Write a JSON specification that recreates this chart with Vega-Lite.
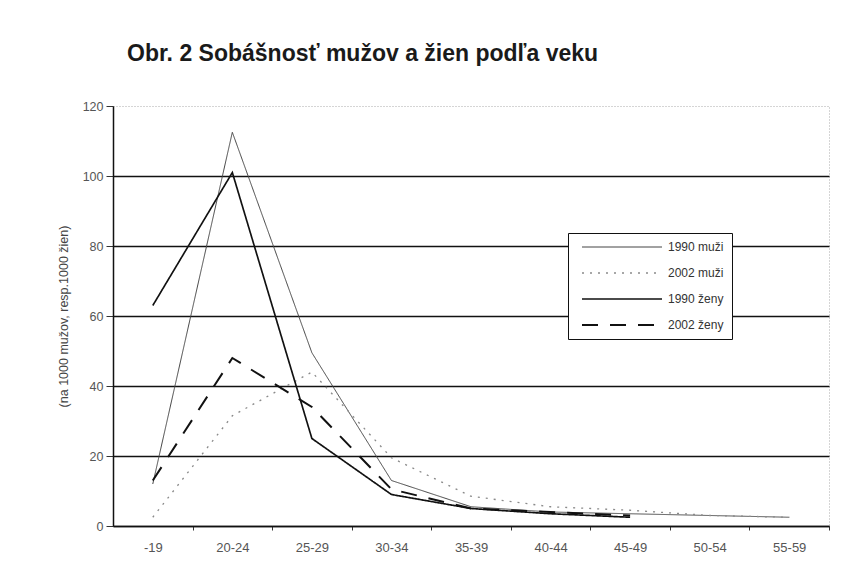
{
  "$schema": "https://vega.github.io/schema/vega-lite/v6.json",
  "width": 716,
  "height": 420,
  "autosize": {"type": "none"},
  "padding": {"left": 113, "top": 106, "right": 33, "bottom": 58},
  "background": "white",
  "title": {
    "text": "Obr. 2 Sobášnosť mužov a žien podľa veku",
    "anchor": "start",
    "frame": "group",
    "font": "Liberation Sans",
    "fontSize": 23,
    "fontWeight": "bold",
    "color": "#1a1a1a",
    "dx": 14,
    "offset": 34
  },
  "data": {
    "values": [
      {"age": "-19", "series": "1990 muži", "value": 12},
      {"age": "20-24", "series": "1990 muži", "value": 112.5},
      {"age": "25-29", "series": "1990 muži", "value": 49.5},
      {"age": "30-34", "series": "1990 muži", "value": 13},
      {"age": "35-39", "series": "1990 muži", "value": 5.5},
      {"age": "40-44", "series": "1990 muži", "value": 4},
      {"age": "45-49", "series": "1990 muži", "value": 3.5},
      {"age": "50-54", "series": "1990 muži", "value": 3},
      {"age": "55-59", "series": "1990 muži", "value": 2.5},
      {"age": "-19", "series": "2002 muži", "value": 2.5},
      {"age": "20-24", "series": "2002 muži", "value": 31.5},
      {"age": "25-29", "series": "2002 muži", "value": 44},
      {"age": "30-34", "series": "2002 muži", "value": 19.5},
      {"age": "35-39", "series": "2002 muži", "value": 8.5},
      {"age": "40-44", "series": "2002 muži", "value": 5.5},
      {"age": "45-49", "series": "2002 muži", "value": 4.5},
      {"age": "50-54", "series": "2002 muži", "value": 3},
      {"age": "55-59", "series": "2002 muži", "value": 2.5},
      {"age": "-19", "series": "1990 ženy", "value": 63},
      {"age": "20-24", "series": "1990 ženy", "value": 101},
      {"age": "25-29", "series": "1990 ženy", "value": 25},
      {"age": "30-34", "series": "1990 ženy", "value": 9},
      {"age": "35-39", "series": "1990 ženy", "value": 5},
      {"age": "40-44", "series": "1990 ženy", "value": 3.5},
      {"age": "45-49", "series": "1990 ženy", "value": 2.5},
      {"age": "-19", "series": "2002 ženy", "value": 13},
      {"age": "20-24", "series": "2002 ženy", "value": 48},
      {"age": "25-29", "series": "2002 ženy", "value": 34},
      {"age": "30-34", "series": "2002 ženy", "value": 10.5},
      {"age": "35-39", "series": "2002 ženy", "value": 5},
      {"age": "40-44", "series": "2002 ženy", "value": 4},
      {"age": "45-49", "series": "2002 ženy", "value": 3}
    ]
  },
  "mark": {"type": "line", "interpolate": "linear"},
  "encoding": {
    "x": {
      "field": "age",
      "type": "ordinal",
      "sort": ["-19", "20-24", "25-29", "30-34", "35-39", "40-44", "45-49", "50-54", "55-59"],
      "scale": {"type": "point", "padding": 0.5},
      "axis": {
        "title": null,
        "labelAngle": 0,
        "labelFont": "Liberation Sans",
        "labelFontSize": 13,
        "labelColor": "#555",
        "labelPadding": 11,
        "tickSize": 4,
        "tickColor": "#333",
        "tickOffset": 39.78,
        "labelOffset": -39.78,
        "domainColor": "#111",
        "domainWidth": 1.5,
        "grid": false
      }
    },
    "y": {
      "field": "value",
      "type": "quantitative",
      "scale": {"domain": [0, 120]},
      "axis": {
        "values": [0, 20, 40, 60, 80, 100, 120],
        "title": "(na 1000 mužov, resp.1000 žien)",
        "titleFont": "Liberation Sans",
        "titleFontSize": 12.5,
        "titleFontWeight": "normal",
        "titleColor": "#444",
        "titlePadding": 12,
        "labelFont": "Liberation Sans",
        "labelFontSize": 12.5,
        "labelColor": "#555",
        "labelPadding": 3,
        "tickSize": 7,
        "tickColor": "#333",
        "domainColor": "#111",
        "domainWidth": 1.5,
        "grid": true,
        "gridColor": {"condition": {"test": "datum.value === 120", "value": "transparent"}, "value": "#111"},
        "gridWidth": 1.4
      }
    },
    "color": {
      "field": "series",
      "type": "ordinal",
      "scale": {
        "domain": ["1990 muži", "2002 muži", "1990 ženy", "2002 ženy"],
        "range": ["#444444", "#8a8a8a", "#111111", "#111111"]
      }
    },
    "strokeDash": {
      "field": "series",
      "type": "ordinal",
      "scale": {
        "domain": ["1990 muži", "2002 muži", "1990 ženy", "2002 ženy"],
        "range": [[1, 0], [2, 6], [1, 0], [16, 12]]
      }
    },
    "strokeWidth": {
      "field": "series",
      "type": "ordinal",
      "scale": {
        "domain": ["1990 muži", "2002 muži", "1990 ženy", "2002 ženy"],
        "range": [1, 2, 3, 3]
      }
    }
  },
  "config": {
    "view": {"stroke": "#aaa", "strokeDash": [1, 2], "strokeWidth": 1},
    "legend": {
      "orient": "none",
      "legendX": 455,
      "legendY": 127,
      "title": null,
      "symbolType": "M0,0H16",
      "symbolSize": 100,
      "strokeColor": "#111",
      "fillColor": "white",
      "padding": 8,
      "labelOffset": 80,
      "labelFont": "Liberation Sans",
      "labelFontSize": 12,
      "labelColor": "#333",
      "rowPadding": 14
    }
  }
}
